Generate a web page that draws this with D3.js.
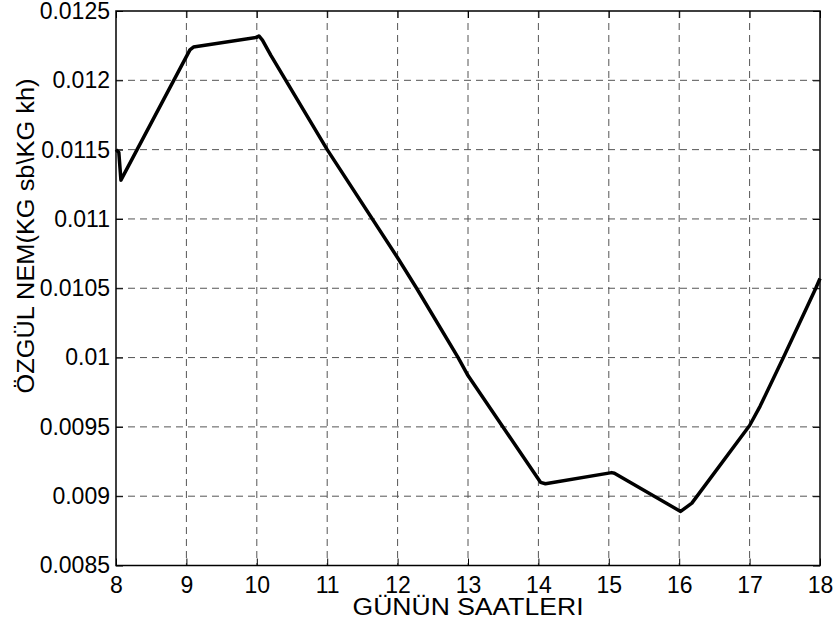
<!DOCTYPE html>
<html>
<head>
<meta charset="utf-8">
<script src="https://cdn.jsdelivr.net/npm/d3@7"></script>
<style>
  body { margin: 0; background: #fff; }
  svg text { font-family: "Liberation Sans", Arial, Helvetica, sans-serif; fill: #000; }
</style>
</head>
<body>
<div id="chart"></div>
<script>
// saat (x) ve özgül nem (y) degerleri
const saatler = [8.0, 8.04, 8.07, 9.05, 9.1, 10.0, 10.03, 10.08, 10.2, 11.0, 12.0, 12.27, 12.86, 13.0, 14.03, 14.1, 15.04, 15.08, 16.02, 16.18, 17.0, 17.15, 17.48, 17.94, 18.0];
const nem = [0.01150, 0.01148, 0.01128, 0.01222, 0.01224, 0.01231, 0.01232, 0.01229, 0.01218, 0.01150, 0.01072, 0.01050, 0.01000, 0.00987, 0.00910, 0.00909, 0.00917, 0.009165, 0.00889, 0.00895, 0.00951, 0.00965, 0.01000, 0.01050, 0.01057];
const xTicks = [8, 9, 10, 11, 12, 13, 14, 15, 16, 17, 18];
const yTicks = [0.0085, 0.009, 0.0095, 0.01, 0.0105, 0.011, 0.0115, 0.012, 0.0125];
const xEtiket = 'GÜNÜN SAATLERI';
const yEtiket = 'ÖZGÜL NEM(KG sb\\KG kh)';

const W = 837, H = 628;
const margin = { top: 11, right: 17, bottom: 62.5, left: 116 };
const width = W - margin.left - margin.right;
const height = H - margin.top - margin.bottom;

const svg = d3.select('#chart').append('svg')
  .attr('width', W)
  .attr('height', H);

const g = svg.append('g')
  .attr('transform', `translate(${margin.left},${margin.top})`);

const x = d3.scaleLinear().domain([8, 18]).range([0, width]);
const y = d3.scaleLinear().domain([0.0085, 0.0125]).range([height, 0]);

// grid (kesik cizgiler)
g.append('g').selectAll('line')
  .data(xTicks.slice(1, -1))
  .join('line')
  .attr('x1', d => x(d)).attr('x2', d => x(d))
  .attr('y1', 0).attr('y2', height)
  .attr('stroke', '#555').attr('stroke-width', 1)
  .attr('stroke-dasharray', '7,5');

g.append('g').selectAll('line')
  .data(yTicks.slice(1, -1))
  .join('line')
  .attr('y1', d => y(d)).attr('y2', d => y(d))
  .attr('x1', 0).attr('x2', width)
  .attr('stroke', '#555').attr('stroke-width', 1)
  .attr('stroke-dasharray', '7,5');

// eksenler - tickler iceri dogru
const fmtY = d => d3.format('.5~f')(d);

const xAxis = g.append('g')
  .attr('transform', `translate(0,${height})`)
  .call(d3.axisBottom(x).tickValues(xTicks).tickFormat(d3.format('d')).tickSizeInner(-7).tickSizeOuter(0).tickPadding(11));
const yAxis = g.append('g')
  .call(d3.axisLeft(y).tickValues(yTicks).tickFormat(fmtY).tickSizeInner(-7).tickSizeOuter(0).tickPadding(6));
g.append('g')
  .attr('transform', `translate(${width},0)`)
  .call(d3.axisRight(y).tickValues(yTicks).tickFormat('').tickSizeInner(-7).tickSizeOuter(0));
g.append('g')
  .call(d3.axisTop(x).tickValues(xTicks).tickFormat('').tickSizeInner(-7).tickSizeOuter(0));

g.selectAll('.domain').remove();
g.selectAll('.tick line').attr('stroke', '#000').attr('stroke-width', 1);

xAxis.selectAll('text')
  .style('font-size', '23px')
  .attr('dy', '0.71em');
yAxis.selectAll('text')
  .style('font-size', '23px');

// cerceve
g.append('rect')
  .attr('width', width).attr('height', height)
  .attr('fill', 'none')
  .attr('stroke', '#000').attr('stroke-width', 1.5);

// veri cizgisi
const veri = saatler.map((s, i) => ({ s: s, n: nem[i] }));
const line = d3.line()
  .x(d => x(d.s))
  .y(d => y(d.n));

g.append('path')
  .datum(veri)
  .attr('fill', 'none')
  .attr('stroke', '#000')
  .attr('stroke-width', 3.5)
  .attr('stroke-linejoin', 'round')
  .attr('d', line);

// eksen basliklari
svg.append('text')
  .attr('x', margin.left + width / 2)
  .attr('y', 615)
  .attr('text-anchor', 'middle')
  .attr('textLength', 231)
  .attr('lengthAdjust', 'spacingAndGlyphs')
  .style('font-size', '23px')
  .text(xEtiket);

svg.append('text')
  .attr('transform', `translate(34,236) rotate(-90)`)
  .attr('text-anchor', 'middle')
  .attr('textLength', 315)
  .attr('lengthAdjust', 'spacingAndGlyphs')
  .style('font-size', '23px')
  .text(yEtiket);
</script>
</body>
</html>
